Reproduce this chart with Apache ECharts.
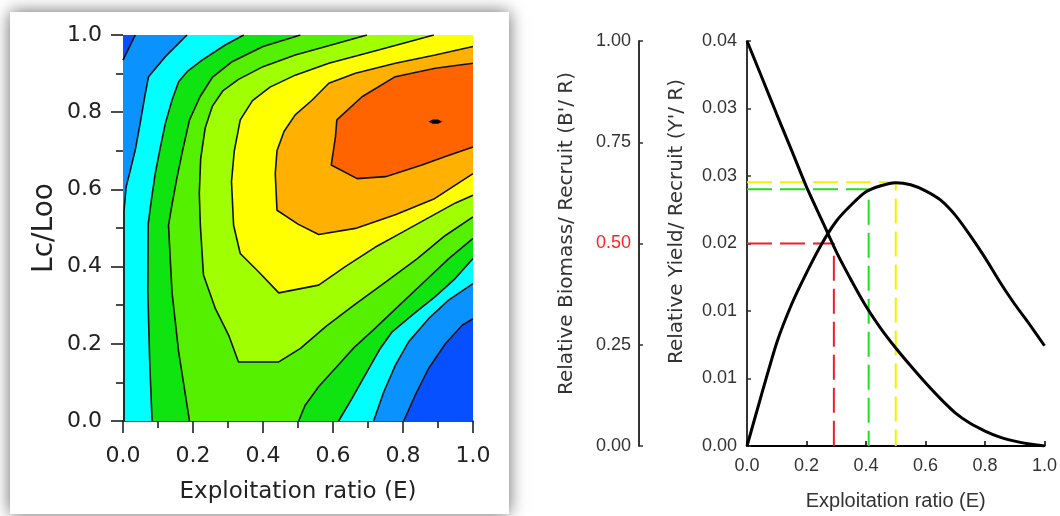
<!DOCTYPE html>
<html>
<head>
<meta charset="utf-8">
<script src="https://cdn.jsdelivr.net/npm/echarts@6/dist/echarts.min.js"></script>
<style>
  html, body { margin: 0; padding: 0; background: #fff; }
  #chart { width: 1060px; height: 516px; }
</style>
</head>
<body>
<div id="chart"></div>
<script>
// ---- 右图：相对产量/补充量 与 相对生物量/补充量 ----
const ratioE = [0, 0.05, 0.1, 0.15, 0.2, 0.25, 0.3, 0.35, 0.4, 0.45, 0.5,
  0.55, 0.6, 0.65, 0.7, 0.75, 0.8, 0.85, 0.9, 0.95, 1.0];
const biomassPerRecruit = [1.0, 0.91, 0.819, 0.73, 0.64, 0.56, 0.48, 0.41, 0.345, 0.29, 0.242,
  0.198, 0.156, 0.117, 0.082, 0.056, 0.037, 0.022, 0.012, 0.005, 0.0];
const yieldPerRecruit = [0, 0.0052, 0.0102, 0.0140, 0.0171, 0.0199, 0.0222, 0.0238, 0.0251, 0.0257, 0.0260,
  0.0258, 0.0252, 0.0243, 0.0228, 0.0208, 0.0186, 0.0162, 0.0140, 0.0120, 0.0099];
// 参考点 [E, Y'/R]
const pointE50 = [0.292, 0.02];
const pointE01 = [0.409, 0.02535];
const pointEmax = [0.5, 0.02604];

// ---- 左图：Lc/Loo - E 等值线，点为 [E, Lc/Loo] ----
const bandColors = ['#0650ff', '#0a93ff', '#00ffff', '#10e410', '#55f000',
  '#a0ff00', '#ffff00', '#ffb000', '#ff6400', '#000000'];
const c0a = [[0.035, 1], [0, 0.935]];
const c0b = [[0.802, 0], [0.835, 0.067], [0.873, 0.136], [0.921, 0.2], [0.969, 0.248], [1, 0.265]];
const c1a = [[0.183, 1], [0.121, 0.944], [0.073, 0.892], [0.062, 0.84], [0.049, 0.771], [0.035, 0.702],
  [0.021, 0.65], [0.009, 0.607], [0.003, 0.546], [0.003, 0]];
const c1b = [[0.716, 0], [0.745, 0.075], [0.778, 0.144], [0.816, 0.205], [0.873, 0.265], [0.93, 0.313], [1, 0.356]];
const c2a = [[0.345, 1], [0.292, 0.974], [0.226, 0.935], [0.183, 0.905], [0.159, 0.879], [0.14, 0.831],
  [0.121, 0.771], [0.107, 0.71], [0.092, 0.641], [0.081, 0.572], [0.072, 0.51], [0.071, 0.334],
  [0.076, 0.162], [0.083, 0]];
const c2b = [[0.616, 0], [0.654, 0.058], [0.697, 0.127], [0.735, 0.188], [0.769, 0.231], [0.826, 0.274],
  [0.892, 0.322], [0.949, 0.369], [1, 0.421]];
const c3a = [[0.507, 1], [0.4, 0.97], [0.31, 0.93], [0.255, 0.89], [0.22, 0.84], [0.19, 0.78], [0.17, 0.7],
  [0.152, 0.62], [0.138, 0.55], [0.13, 0.507], [0.14, 0.334], [0.159, 0.179], [0.19, 0]];
const c3b = [[0.502, 0], [0.52, 0.04], [0.56, 0.09], [0.61, 0.14], [0.66, 0.19], [0.72, 0.24], [0.79, 0.3],
  [0.86, 0.36], [0.93, 0.42], [1, 0.473]];
const c4 = [[0.697, 1], [0.59, 0.973], [0.492, 0.948], [0.4, 0.918], [0.33, 0.885], [0.285, 0.855],
  [0.255, 0.815], [0.235, 0.76], [0.222, 0.68], [0.218, 0.59], [0.221, 0.507], [0.23, 0.378],
  [0.264, 0.291], [0.302, 0.222], [0.33, 0.153], [0.445, 0.153], [0.507, 0.188], [0.58, 0.245],
  [0.66, 0.3], [0.75, 0.36], [0.84, 0.42], [0.92, 0.48], [1, 0.529]];
const c5 = [[0.888, 1], [0.73, 0.961], [0.588, 0.927], [0.492, 0.896], [0.42, 0.865], [0.37, 0.83],
  [0.335, 0.78], [0.318, 0.7], [0.31, 0.62], [0.316, 0.507], [0.335, 0.434], [0.388, 0.386],
  [0.445, 0.332], [0.559, 0.352], [0.635, 0.4], [0.72, 0.45], [0.8, 0.49], [0.88, 0.53],
  [0.95, 0.565], [1, 0.585]];
const c6 = [[1, 0.97], [0.892, 0.948], [0.778, 0.927], [0.664, 0.901], [0.588, 0.875], [0.54, 0.831],
  [0.492, 0.793], [0.46, 0.75], [0.44, 0.7], [0.435, 0.641], [0.44, 0.546], [0.5, 0.51],
  [0.559, 0.483], [0.664, 0.499], [0.78, 0.535], [0.888, 0.575], [1, 0.641]];
const c7 = [[1, 0.927], [0.892, 0.914], [0.778, 0.892], [0.683, 0.84], [0.611, 0.78], [0.607, 0.736],
  [0.595, 0.663], [0.669, 0.628], [0.75, 0.633], [0.854, 0.663], [0.921, 0.685], [1, 0.71]];
const c8 = [[0.873, 0.775], [0.885, 0.781], [0.9, 0.781], [0.912, 0.775], [0.9, 0.77], [0.885, 0.77]];

const bandPolygons = [
  [[0, 0], [1, 0], [1, 1], [0, 1]],
  [...c0a, [0, 0], ...c0b, [1, 1]],
  [...c1a, ...c1b, [1, 1]],
  [...c2a, ...c2b, [1, 1]],
  [...c3a, ...c3b, [1, 1]],
  [...c4, [1, 1]],
  [...c5, [1, 1]],
  c6,
  c7,
  c8
];
const contourLines = [c0a, c0b, c1a, c1b, c2a, c2b, c3a, c3b, c4, c5, c6, c7];

const chart = echarts.init(document.getElementById('chart'));

const leftFont = 'DejaVu Sans';
const rightFont = "'Liberation Sans Narrow', 'Liberation Sans', Arial";

const series = [];
// 色带（按上水平集依次叠加）
series.push({
  type: 'custom',
  xAxisIndex: 0, yAxisIndex: 0,
  silent: true,
  data: bandPolygons.map((p, i) => [i, 0]),
  renderItem: (params, api) => ({
    type: 'polygon',
    shape: { points: bandPolygons[params.dataIndex].map(p => api.coord(p)) },
    style: { fill: bandColors[params.dataIndex], stroke: null }
  }),
  z: 2
});
contourLines.forEach(line => {
  series.push({
    type: 'line', xAxisIndex: 0, yAxisIndex: 0, data: line,
    showSymbol: false, silent: true, z: 3,
    lineStyle: { color: '#111', width: 1.6 }
  });
});
// 右图曲线
series.push({
  type: 'line', xAxisIndex: 1, yAxisIndex: 3,
  data: ratioE.map((e, i) => [e, biomassPerRecruit[i]]),
  showSymbol: false, smooth: 0.2, z: 4,
  lineStyle: { color: '#000', width: 3 }
});
series.push({
  type: 'line', xAxisIndex: 1, yAxisIndex: 2,
  data: ratioE.map((e, i) => [e, yieldPerRecruit[i]]),
  showSymbol: false, smooth: 0.2, z: 4,
  lineStyle: { color: '#000', width: 3 }
});
[[pointEmax, '#f2f200'], [pointE01, '#22dd22'], [pointE50, '#ee2020']].forEach(([p, color]) => {
  series.push({
    type: 'line', xAxisIndex: 1, yAxisIndex: 2,
    data: [[0, p[1]], [p[0], p[1]], [p[0], 0]],
    showSymbol: false, z: 3,
    lineStyle: { color: color, width: 2, type: [25, 8] }
  });
});

const option = {
  animation: false,
  backgroundColor: '#fff',
  graphic: [
    { type: 'rect', z: -10, shape: { x: 10, y: 12, width: 499, height: 502 },
      style: { fill: '#fff', shadowBlur: 16, shadowColor: 'rgba(0,0,0,0.6)' } }
  ],
  grid: [
    { left: 123, right: 587, top: 35, bottom: 95 },
    { left: 747, right: 13, top: 41, bottom: 69 }
  ],
  xAxis: [{
    gridIndex: 0, type: 'value', min: 0, max: 1, interval: 0.2,
    name: 'Exploitation ratio (E)', nameLocation: 'middle', nameGap: 60,
    nameTextStyle: { fontFamily: leftFont, fontSize: 23, color: '#222' },
    axisLine: { show: true, lineStyle: { color: '#111', width: 1.5 } },
    axisTick: { show: true, length: 12, lineStyle: { color: '#111', width: 1.5 } },
    minorTick: { show: true, splitNumber: 2, length: 7, lineStyle: { color: '#111', width: 1.5 } },
    splitLine: { show: false },
    axisLabel: { margin: 24, fontFamily: leftFont, fontSize: 22, color: '#222',
      formatter: v => v.toFixed(1) }
  }, {
    gridIndex: 1, type: 'value', min: 0, max: 1, interval: 0.2,
    name: 'Exploitation ratio (E)', nameLocation: 'middle', nameGap: 45,
    nameTextStyle: { fontFamily: rightFont, fontSize: 20, color: '#333' },
    axisLine: { show: true, lineStyle: { color: '#000', width: 2 } },
    axisTick: { show: true, inside: true, length: 5, lineStyle: { color: '#000', width: 1.5 } },
    splitLine: { show: false },
    axisLabel: { margin: 11, fontFamily: rightFont, fontSize: 18, color: '#333',
      formatter: v => v.toFixed(1) }
  }],
  yAxis: [{
    gridIndex: 0, type: 'value', min: 0, max: 1, interval: 0.2,
    name: 'Lc/Loo', nameLocation: 'middle', nameGap: 64, nameRotate: 90,
    nameTextStyle: { fontFamily: leftFont, fontSize: 28, color: '#222' },
    axisLine: { show: false },
    axisTick: { show: true, length: 12, lineStyle: { color: '#111', width: 1.5 } },
    minorTick: { show: true, splitNumber: 2, length: 7, lineStyle: { color: '#111', width: 1.5 } },
    splitLine: { show: false },
    axisLabel: { margin: 21, fontFamily: leftFont, fontSize: 22, color: '#222',
      formatter: v => v.toFixed(1) }
  }, {
    gridIndex: 0, type: 'value', min: 0, max: 1, show: false
  }, {
    gridIndex: 1, type: 'value', min: 0, max: 0.04, interval: 0.04 / 6,
    name: "Relative Yield/ Recruit (Y'/ R)", nameLocation: 'middle', nameGap: 60, nameRotate: 90,
    nameTextStyle: { fontFamily: 'DejaVu Sans', fontSize: 20, color: '#333', padding: [0, 0, 0, 44] },
    axisLine: { show: true, lineStyle: { color: '#333', width: 2 } },
    axisTick: { show: true, inside: true, length: 4, lineStyle: { color: '#333', width: 1.5 } },
    splitLine: { show: false },
    axisLabel: { margin: 10, fontFamily: rightFont, fontSize: 18, color: '#333',
      formatter: v => v.toFixed(2) }
  }, {
    gridIndex: 1, type: 'value', min: 0, max: 1, interval: 0.25, position: 'left', offset: 108,
    name: "Relative Biomass/ Recruit (B'/ R)", nameLocation: 'middle', nameGap: 62, nameRotate: 90,
    nameTextStyle: { fontFamily: 'DejaVu Sans', fontSize: 20, color: '#333', padding: [0, 0, 0, 20] },
    axisLine: { show: true, lineStyle: { color: '#333', width: 2 } },
    axisTick: { show: true, inside: true, length: 4, lineStyle: { color: '#333', width: 1.5 } },
    splitLine: { show: false },
    axisLabel: { margin: 8, fontFamily: rightFont, fontSize: 18,
      color: v => (Math.abs(v - 0.5) < 1e-9 ? '#ff2020' : '#333'),
      formatter: v => v.toFixed(2) }
  }],
  series: series
};
chart.setOption(option);
</script>
</body>
</html>
